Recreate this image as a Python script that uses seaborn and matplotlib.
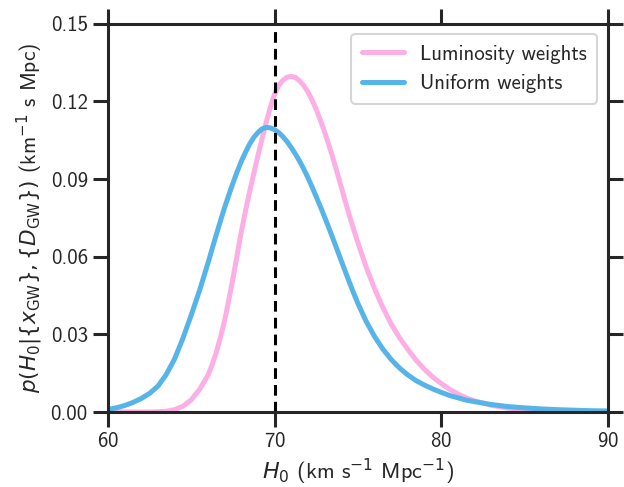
import numpy as np
import pandas as pd
import seaborn as sns
import matplotlib
import matplotlib.pyplot as plt

# H0 grid (km/s/Mpc) and posterior values
h0 = [60.0, 60.5, 61.0, 61.5, 62.0, 62.5, 63.0, 63.5, 64.0, 64.5,
      65.0, 65.5,
      66.0, 66.25, 66.5, 66.75, 67.0, 67.25, 67.5, 67.75,
      68.0, 68.25, 68.5, 68.75, 69.0, 69.25, 69.5, 69.75,
      70.0, 70.25, 70.5, 70.75, 71.0, 71.25, 71.5, 71.75,
      72.0, 72.25, 72.5, 72.75, 73.0, 73.25, 73.5, 73.75,
      74.0, 74.25, 74.5, 74.75, 75.0,
      75.5, 76.0, 76.5, 77.0, 77.5, 78.0, 78.5, 79.0, 79.5,
      80.0, 80.5, 81.0, 81.5, 82.0, 83.0, 84.0, 85.0, 86.0, 87.0,
      88.0, 89.0, 90.0]
lum_weights = [0.0000, 0.0000, 0.0000, 0.0000, 0.0000, 0.0000, 0.0001, 0.0003, 0.0009, 0.0022,
               0.0047, 0.0087,
               0.0142, 0.0182, 0.0230, 0.0288, 0.0352, 0.0432, 0.0515, 0.0605,
               0.0695, 0.0775, 0.0850, 0.0921, 0.0990, 0.1056, 0.1120, 0.1178,
               0.1228, 0.1262, 0.1282, 0.1294, 0.1297, 0.1293, 0.1280, 0.1262,
               0.1237, 0.1206, 0.1170, 0.1128, 0.1083, 0.1034, 0.0982, 0.0927,
               0.0870, 0.0813, 0.0758, 0.0705, 0.0655,
               0.0560, 0.0477, 0.0404, 0.0340, 0.0287, 0.0242, 0.0200, 0.0165, 0.0135,
               0.0110, 0.0088, 0.0070, 0.0055, 0.0043, 0.0026, 0.0015, 0.0009, 0.0005, 0.0003,
               0.0002, 0.0001, 0.0000]
uni_weights = [0.0010, 0.0016, 0.0025, 0.0037, 0.0052, 0.0072, 0.0100, 0.0145, 0.0205, 0.0285,
               0.0375, 0.0470,
               0.0575, 0.0630, 0.0685, 0.0738, 0.0790, 0.0838, 0.0884, 0.0928,
               0.0968, 0.1003, 0.1035, 0.1061, 0.1080, 0.1094, 0.1100, 0.1098,
               0.1091, 0.1080, 0.1064, 0.1045, 0.1022, 0.0997, 0.0970, 0.0939,
               0.0906, 0.0870, 0.0832, 0.0794, 0.0754, 0.0713, 0.0671, 0.0628,
               0.0585, 0.0542, 0.0500, 0.0459, 0.0420,
               0.0350, 0.0292, 0.0243, 0.0203, 0.0170, 0.0143, 0.0121, 0.0104, 0.0089,
               0.0076, 0.0064, 0.0055, 0.0046, 0.0040, 0.0029, 0.0021, 0.0016, 0.0012, 0.0009,
               0.0007, 0.0005, 0.0004]
h0_true = 70

df = pd.DataFrame({'H0': h0 * 2,
                   'p': lum_weights + uni_weights,
                   'weights': ['Luminosity weights'] * len(h0) + ['Uniform weights'] * len(h0)})

sns.set_style('ticks')
matplotlib.rcParams['font.family'] = ['cmss10', 'DejaVu Sans']
matplotlib.rcParams['mathtext.fontset'] = 'dejavusans'
matplotlib.rcParams['axes.formatter.use_mathtext'] = True
matplotlib.rcParams['font.size'] = 15
matplotlib.rcParams['lines.solid_joinstyle'] = 'round'

fig, ax = plt.subplots(figsize=(6.24, 4.87), dpi=100)
fig.subplots_adjust(left=0.173, right=0.974, top=0.951, bottom=0.154)

sns.lineplot(data=df, x='H0', y='p', hue='weights', ax=ax, linewidth=3.6,
             palette=['#fbafe4', '#56b4e9'], sort=False)
ax.axvline(h0_true, color='black', linestyle='--', linewidth=2.2, dashes=(3.5, 2))

ax.set_xlim(60, 90)
ax.set_ylim(0, 0.15)
ax.set_xticks([60, 70, 80, 90])
ax.set_yticks([0.0, 0.03, 0.06, 0.09, 0.12, 0.15])
ax.set_yticklabels(['0.00', '0.03', '0.06', '0.09', '0.12', '0.15'])
ax.set_xlabel(r'$H_0$ (km s$^{-1}$ Mpc$^{-1}$)', fontsize=16)
ax.set_ylabel(r'$p(H_0|\{x_{\rm GW}\},\{D_{\rm GW}\})$ (km$^{-1}$ s Mpc)', fontsize=15.5)

for side in ['top', 'right', 'left', 'bottom']:
    ax.spines[side].set_linewidth(2.2)
    ax.spines[side].set_color('#262626')
ax.tick_params(which='major', direction='out', length=11, width=2.2, color='#262626',
               top=True, right=True, labelsize=15, labelcolor='#262626')

leg = ax.legend(loc='upper right', fontsize=15, frameon=True, handlelength=2.0,
                borderpad=0.5)
leg.set_title(None)
leg.get_frame().set_edgecolor('#cccccc')
leg.get_frame().set_linewidth(1.5)
for line in leg.get_lines():
    line.set_linewidth(3.6)

fig.savefig('out.png', dpi=100)
